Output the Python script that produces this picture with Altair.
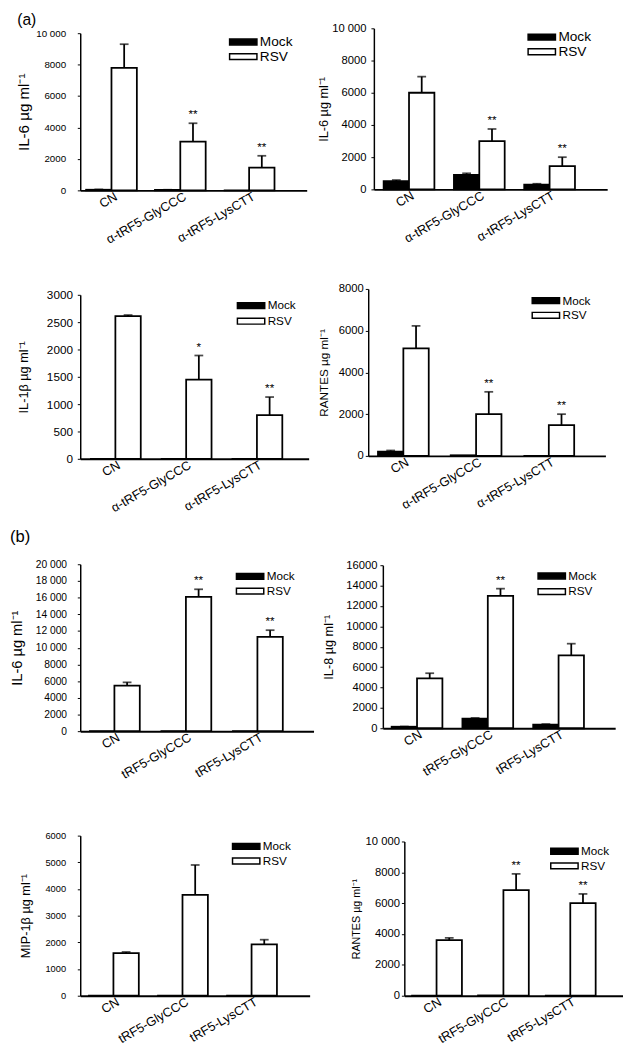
import altair as alt
import pandas as pd

FONT = "Liberation Sans"
SERIES = ["Mock", "RSV"]

cats_a = ["CN", "α-tRF5-GlyCCC", "α-tRF5-LysCTT"]
cats_b = ["CN", "tRF5-GlyCCC", "tRF5-LysCTT"]

# ---- (a) IL-6 (left)
a1_mock = [40, 30, 0]
a1_mock_err = [20, 10, 0]
a1_rsv = [7800, 3100, 1450]
a1_rsv_err = [1500, 1170, 750]
a1_sig = ["", "**", "**"]
# ---- (a) IL-6 (right)
a2_mock = [520, 900, 300]
a2_mock_err = [60, 100, 50]
a2_rsv = [6000, 3000, 1450]
a2_rsv_err = [1000, 750, 550]
a2_sig = ["", "**", "**"]
# ---- (a) IL-1beta
a3_mock = [0, 0, 0]
a3_mock_err = [0, 0, 0]
a3_rsv = [2610, 1450, 800]
a3_rsv_err = [20, 440, 330]
a3_sig = ["", "*", "**"]
# ---- (a) RANTES
a4_mock = [200, 30, 0]
a4_mock_err = [60, 0, 0]
a4_rsv = [5150, 2000, 1480]
a4_rsv_err = [1080, 1070, 520]
a4_sig = ["", "**", "**"]
# ---- (b) IL-6
b1_mock = [0, 0, 0]
b1_mock_err = [0, 0, 0]
b1_rsv = [5450, 16100, 11300]
b1_rsv_err = [400, 900, 800]
b1_sig = ["", "**", "**"]
# ---- (b) IL-8
b2_mock = [150, 950, 350]
b2_mock_err = [20, 60, 60]
b2_rsv = [4900, 13000, 7150]
b2_rsv_err = [500, 700, 1150]
b2_sig = ["", "**", ""]
# ---- (b) MIP-1beta
b3_mock = [0, 0, 0]
b3_mock_err = [0, 0, 0]
b3_rsv = [1600, 3780, 1920]
b3_rsv_err = [40, 1120, 180]
b3_sig = ["", "", ""]
# ---- (b) RANTES
b4_mock = [0, 20, 0]
b4_mock_err = [0, 0, 0]
b4_rsv = [3600, 6850, 6000]
b4_rsv_err = [150, 1050, 600]
b4_sig = ["", "**", "**"]

SPACED = "datum.value >= 10000 ? replace(format(datum.value, ','), ',', ' ') : format(datum.value, 'd')"
PLAIN = "format(datum.value, 'd')"


def panel(cats, mock, mock_err, rsv, rsv_err, sig, ymax, ystep, label_expr, ytitle, L):
    recs = []
    for i, c in enumerate(cats):
        recs.append(dict(cat=c, series="Mock", value=mock[i], err=mock_err[i], sig=""))
        recs.append(dict(cat=c, series="RSV", value=rsv[i], err=rsv_err[i], sig=sig[i]))
    df = pd.DataFrame(recs)
    df["top"] = df["value"] + df["err"]

    W, H, t = L["W"], L["H"], L["t"]
    step, band, off = L["step"], L["band"], L["off"]
    pi = 1 - band / step
    po = (W / step - 3 + pi) / 2
    free = W - step * (3 - pi)
    al = min(1, max(0, off / free))

    x = alt.X(
        "cat:N", sort=cats, title=None,
        scale=alt.Scale(paddingInner=pi, paddingOuter=po, align=al, round=False),
        axis=alt.Axis(labelAngle=330, labelAlign="right", labelBaseline="middle",
                      labelPadding=5, labelOffset=5, ticks=False, domainWidth=2,
                      domainColor="black", labelFont=FONT, labelFontSize=L.get("xfs", 13),
                      labelColor="black", labelOverlap=False, labelLimit=0),
    )
    xo = alt.XOffset("series:N", sort=SERIES, scale=alt.Scale(paddingInner=0, paddingOuter=0))
    yscale = alt.Scale(domain=[0, ymax], range=[H, t], nice=False, zero=True)
    yaxis = alt.Axis(values=list(range(0, ymax + 1, ystep)), labelExpr=label_expr,
                     tickSize=3, tickColor="black", tickWidth=1, domainColor="black",
                     domainWidth=1.5, grid=False, labelFont=FONT,
                     labelFontSize=L["yfs"], labelColor="black", labelPadding=L["lp"],
                     title=ytitle, titleFont=FONT, titleFontSize=L.get("tfs", 13),
                     titleFontWeight="normal", titleColor="black",
                     titlePadding=L["tp"], labelOverlap=False, labelSeparation=0)
    y = alt.Y("value:Q", scale=yscale, axis=yaxis)
    ytop = alt.Y("top:Q", scale=yscale, axis=yaxis)
    fill = alt.Fill(
        "series:N", sort=SERIES,
        scale=alt.Scale(domain=SERIES, range=["black", "white"]),
        legend=alt.Legend(orient="none", legendX=L["lx"], legendY=L["ly"], title=None,
                          symbolType="M-2,-0.43H2V0.43H-2Z", symbolSize=196,
                          symbolStrokeColor="black", symbolStrokeWidth=1.5,
                          labelFont=FONT, labelFontSize=L["lfs"], labelColor="black",
                          labelOffset=9, rowPadding=L.get("rp", 0), padding=0),
    )
    base = alt.Chart(df)
    bars = base.mark_bar(stroke="black", strokeWidth=1.8).encode(x=x, xOffset=xo, y=y, fill=fill)
    stems = base.transform_filter("datum.err > 0").mark_rule(color="black", strokeWidth=1.8).encode(
        x=x, xOffset=xo, y=y, y2="top:Q")
    caps = base.transform_filter("datum.err > 0").mark_tick(color="black", thickness=1.8, size=9).encode(
        x=x, xOffset=xo, y=ytop)
    stars = base.transform_filter("datum.sig != ''").mark_text(
        font=FONT, fontSize=12, baseline="middle", dy=-9, color="black").encode(
        x=x, xOffset=xo, y=ytop, text="sig:N")
    return alt.layer(bars, stems, caps, stars).properties(width=W, height=H)


L1 = dict(W=232, H=171, t=10, step=70.5, band=52, off=6, lx=159, ly=11, lfs=14, yfs=10, lp=12, tp=4, tfs=15.5, rp=-2)
L2 = dict(W=239, H=170, t=5, step=72, band=50, off=10, lx=164, ly=6, lfs=14, yfs=11.5, lp=5, tp=1, rp=0)
L3 = dict(W=234, H=180, t=12, step=72.5, band=50, off=10, lx=167, ly=15, lfs=12, yfs=12, lp=5, tp=16.3, rp=1)
L4 = dict(W=243, H=177, t=6, step=74.5, band=51, off=10, lx=174, ly=10, lfs=12, yfs=11.5, lp=2, tp=8.4, tfs=12)
L5 = dict(W=239, H=177, t=6, step=73.25, band=51, off=9, lx=166, ly=10.5, lfs=12, yfs=10.5, lp=11, tp=10.9, tfs=15)
L6 = dict(W=238, H=174, t=7, step=72.5, band=50, off=9, lx=165, ly=10, lfs=12, yfs=11.5, lp=3, tp=11, rp=1)
L7 = dict(W=235, H=170, t=6, step=70.75, band=52, off=8, lx=162, ly=9, lfs=12, yfs=9.5, lp=12, tp=12.9)
L8 = dict(W=224, H=170, t=12, step=68.5, band=50, off=7, lx=156, ly=14, lfs=12, yfs=11.5, lp=2, tp=3.8, tfs=11)

p1 = panel(cats_a, a1_mock, a1_mock_err, a1_rsv, a1_rsv_err, a1_sig, 10000, 2000, SPACED, "IL-6 µg ml⁻¹", L1)
p2 = panel(cats_a, a2_mock, a2_mock_err, a2_rsv, a2_rsv_err, a2_sig, 10000, 2000, SPACED, "IL-6 µg ml⁻¹", L2)
p3 = panel(cats_a, a3_mock, a3_mock_err, a3_rsv, a3_rsv_err, a3_sig, 3000, 500, PLAIN, "IL-1β µg ml⁻¹", L3)
p4 = panel(cats_a, a4_mock, a4_mock_err, a4_rsv, a4_rsv_err, a4_sig, 8000, 2000, PLAIN, "RANTES µg ml⁻¹", L4)
p5 = panel(cats_b, b1_mock, b1_mock_err, b1_rsv, b1_rsv_err, b1_sig, 20000, 2000, SPACED, "IL-6 µg ml⁻¹", L5)
p6 = panel(cats_b, b2_mock, b2_mock_err, b2_rsv, b2_rsv_err, b2_sig, 16000, 2000, PLAIN, "IL-8 µg ml⁻¹", L6)
p7 = panel(cats_b, b3_mock, b3_mock_err, b3_rsv, b3_rsv_err, b3_sig, 6000, 1000, PLAIN, "MIP-1β µg ml⁻¹", L7)
p8 = panel(cats_b, b4_mock, b4_mock_err, b4_rsv, b4_rsv_err, b4_sig, 10000, 2000, SPACED, "RANTES µg ml⁻¹", L8)

tA = alt.TitleParams("(a)", anchor="start", frame="bounds", font=FONT, fontSize=16,
                     fontWeight="normal", color="black", offset=-6)
tB = alt.TitleParams("(b)", anchor="start", frame="bounds", font=FONT, fontSize=17,
                     fontWeight="normal", color="black", offset=13)


def indep(c):
    return c.resolve_scale(fill="independent").resolve_legend(fill="independent")


row1 = indep(alt.hconcat(p1, p2, spacing=10.8, title=tA))
row2 = indep(alt.hconcat(p3, p4, spacing=9))
row3 = indep(alt.hconcat(p5, p6, spacing=9, title=tB))
row4 = indep(alt.hconcat(p7, p8, spacing=42))

top = indep(alt.vconcat(row1, row2, spacing=37))
bottom = indep(alt.vconcat(row3, row4, spacing=49))
chart = indep(alt.vconcat(top, bottom, spacing=13)).properties(
    padding={"left": 1, "top": -8, "right": 0, "bottom": 0}
).configure_view(stroke=None)

chart.save("out.html", embed_options={"renderer": "svg", "actions": False})
